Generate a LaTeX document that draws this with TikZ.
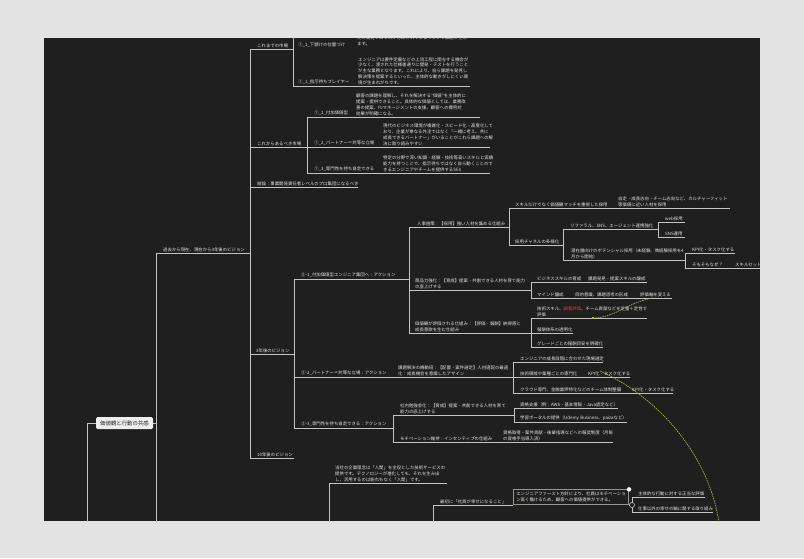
\documentclass[tikz,border=0pt]{standalone}
\usepackage{fontspec}
\setmainfont{Noto Sans CJK JP}
\definecolor{bg}{HTML}{1F1F1F}
\definecolor{outer}{HTML}{E3E3E3}
\definecolor{lnc}{HTML}{C4C4C4}
\definecolor{txc}{HTML}{E4E4E4}
\definecolor{relc}{HTML}{BDBD3A}
\definecolor{redt}{HTML}{E53935}
\definecolor{boxc}{HTML}{9A948C}
\tikzset{
  ln/.style={draw=lnc, line width=0.8pt},
  tn/.style={anchor=south west, inner xsep=0pt, inner ysep=1.2pt, align=left, text=txc, font=\fontsize{4.4}{5.8}\selectfont},
  tx/.style={anchor=south west, inner xsep=0pt, inner ysep=1.2pt, align=left, text=txc, font=\fontsize{4.4}{5.8}\selectfont},
  rootbox/.style={fill=white!93!black, text=black!85, rounded corners=1.5pt, minimum width=57pt, minimum height=12pt, inner sep=0pt, font=\fontsize{5.4}{6.4}\selectfont},
  rel/.style={draw=relc, line width=0.6pt, dash pattern=on 1.6pt off 0.8pt},
}
% branch: [pad]{name}{x1}{x2}{y}{text}
\newcommand\br[6][7]{%
  \pgfmathsetlengthmacro\brw{#4-#3-#1}%
  \coordinate (#2-l) at (#3,#5);
  \node[tn, text width=\brw] (#2) at (#3+#1,#5) {#6};
  \draw[ln] (#2-l) -- (#2.south east);}
\begin{document}
\begin{tikzpicture}[x=1pt,y=-1pt]
\useasboundingbox (0,0) rectangle (804,558);
\fill[outer] (0,0) rectangle (804,558);
\fill[bg] (44,38) rectangle (760,521);
\begin{scope}
\clip (44,38) rectangle (760,521);

% ---------- root ----------
\node[rootbox] (root) at (124.5,423) {価値観と行動の共感};
\coordinate (rl) at (87,423);
\coordinate (rlb) at (87,530);
\draw[ln] (root.west) -- (rl) -- (rlb);
\coordinate (r1) at (156,423);
\coordinate (r1b) at (156,530);
\draw[ln] (root.east) -- (r1);

\br{past}{156}{250}{253}{過去から現在、現在から3年後のビジョン}
\draw[ln] (past-l) -- (r1b);

% ---------- level B ----------
\br{mkt0}{250}{293}{49}{これまでの市場}
\br{mkt1}{250}{307}{147}{これからあるべき市場}
\br{concl}{250}{358}{187}{結論：事業開発責任者レベルのプロ集団になるべき}
\br[6]{ythree}{250}{294}{354}{3年後のビジョン}
\br{yten}{250}{294}{458}{10年後のビジョン}
\draw[ln] (mkt0-l) -- (yten-l);

% ---------- これまでの市場 ----------
\node[tx] (c11) at (298,49) {①\_1\_下請けの位置づけ};
\node[tx] (c11d) at (357,47) {元と開発プロセスが分断されてしまうという課題が生じ\\ます。};
\br[5]{c12}{293}{470}{86}{①\_1\_指示待ちプレイヤー}
\node[tx] (c12d) at (358,86) {エンジニアは要件定義などの上流工程に関与する機会が\\少なく、渡された仕様書通りに開発・テストを行うこと\\が主な業務となります。これにより、自ら課題を発見し\\解決策を提案するといった、主体的な動きがしにくい環\\境が生まれがちです。};
\coordinate (c1top) at (293,30);
\draw[ln] (c1top) -- (c12-l);

% ---------- これからあるべき市場 ----------
\br{c21}{307}{480}{117}{①\_2\_付加価値型}
\node[tx] (c21d) at (356,117) {顧客の課題を理解し、それを解決する“価値”を主体的に\\提案・提供できること。具体的な価値としては、業務改\\善の提案、PJマネージメントの支援、顧客への費用対\\効果が明確になる。};
\br{c22}{307}{490}{147}{①\_2\_パートナー＝対等な立場}
\node[tx] (c22d) at (383,147) {現代のビジネス環境が複雑化・スピード化・高度化して\\おり、企業が単なる外注ではなく「一緒に考え、共に\\成長できるパートナー」がいることがこれら課題への解\\決に取り組みやすい};
\br{c23}{307}{490}{173}{①\_3\_専門性を持ち自走できる}
\node[tx] (c23d) at (383,173) {特定の分野で深い知識・経験・技術等高いスキルと実績\\能力を持つことで、指示待ちではなく自ら動くことので\\きるエンジニアやチームを提供するSES};
\draw[ln] (c21-l) -- (c23-l);

% ---------- 3年後のビジョン ----------
\br[7]{aone}{294}{409}{279}{②-1\_付加価値型エンジニア集団へ：アクション}
\br[7]{atwo}{294}{513}{377}{②-2\_パートナー＝対等な立場：アクション}
\node[tx] (atwod) at (398,377) {課題解決の機動班：【配置・案件選定】人材適配の最適\\化：成長機会を意識したアサイン};
\br[7]{athree}{294}{393}{428}{②-3\_専門性を持ち自走できる：アクション}
\draw[ln] (aone-l) -- (athree-l);

% ---- ②-1 children ----
\br[8]{hone}{409}{509}{227}{人事施策：【採用】強い人材を集める仕組み}
\br[6]{htwo}{409}{531}{290}{商品力強化：【育成】提案・共創できる人材を育て能力\\の底上げする}
\br[6]{hthree}{409}{531}{333}{価値観が評価される仕組み：【評価・報酬】納得感と\\成長意欲を生む仕組み}
\draw[ln] (hone-l) -- (hthree-l);

% 採用
\br[6]{hoa}{509}{730}{208}{スキルだけでなく価値観マッチを重視した採用}
\node[tx] (hoad) at (618,208) {自走・成長志向・チーム志向など、カルチャーフィット\\等価値に近い人材を採用};
\br[6]{hob}{509}{563}{245}{採用チャネルの多様化}
\draw[ln] (hoa-l) -- (hob-l);
\br[7]{hoba}{563}{658}{229}{リファラル、SNS、エージェント連携強化}
\br[8]{hobb}{563}{685}{260}{潜在層向けのポテンシャル採用（未経験、微経験採用を4\\月から開始）}
\draw[ln] (hoba-l) -- (hobb-l);
\br[7]{web}{658}{685}{222}{web採用}
\br[7]{sns}{658}{685}{237}{SNS運用}
\draw[ln] (web-l) -- (sns-l);
\br[7]{kpia}{685}{735}{253}{KPI化・タスク化する}
\br[7]{why}{685}{775}{268}{そもそもなぜ？}
\node[tx] (skill) at (735,268) {スキルセット};
\draw[ln] (kpia-l) -- (why-l);

% 育成
\br[6]{sa}{531}{647}{282}{ビジネススキルの育成}
\node[tx] (sad) at (588,282) {課題発見・提案スキルの醸成};
\br[6]{sb}{531}{672}{298}{マインド醸成}
\node[tx] (sbd) at (575,298) {目的意識、課題思考の形成};
\node[tx] (sbe) at (640,298) {評価軸を変える};
\draw[ln] (sa-l) -- (sb-l);

% 評価
\br[6]{ea}{531}{647}{318}{技術スキル、\textcolor{redt}{顧客評価}、チーム貢献などを定量＋定性で\\評価}
\br[6]{eb}{531}{573}{333}{報酬体系の透明化}
\br[6]{ec}{531}{603}{347}{グレードごとの報酬目安を明確化}
\draw[ln] (ea-l) -- (ec-l);

% ---- ②-2 children ----
\br[7]{pa}{513}{603}{362}{エンジニアの成長段階に合わせた現場選定}
\br[7]{pb}{513}{630}{377}{技術領域や業種ごとの専門化}
\node[tx] (pbd) at (588,377) {KPI化・タスク化する};
\br[7]{pc}{513}{673}{393}{クラウド専門、金融業界特化などのチーム体制整備}
\node[tx] (pcd) at (632,393) {KPI化・タスク化する};
\draw[ln] (pa-l) -- (pc-l);

% ---- ②-3 children ----
\br[7]{qa}{393}{514}{415}{社内勉強会化：【育成】提案・共創できる人材を育て\\能力の底上げする}
\br[7]{qb}{393}{613}{442}{モチベーション維持：インセンティブの仕組み}
\node[tx] (qbd) at (503,442) {資格取得・案件貢献・後輩指導などへの報奨制度（月毎\\の資格手当導入済）};
\draw[ln] (qa-l) -- (qb-l);
\br[6]{ra}{514}{618}{408}{資格支援（例：AWS・基本情報・Java認定など）}
\br[6]{rb}{514}{627}{422}{学習ポータルの提供（Udemy Business、paizaなど）}
\draw[ln] (ra-l) -- (rb-l);

% ---------- bottom part ----------
\br[6]{bta}{329}{447}{483}{当社の企業理念は「人間」を主役とした技術サービスの\\提供です。テクノロジーが進化しても、それを生み出\\し、活用するのは紛れもなく「人間」です。}
\coordinate (btab) at (329,530);
\draw[ln] (bta-l) -- (btab);
\br[7]{btb}{433}{507}{505}{最初に「社員が幸せになること」}
\coordinate (btbb) at (433,530);
\draw[ln] (btb-l) -- (btbb);
\node[draw=boxc, line width=0.6pt, fill=bg, anchor=south west, minimum width=115pt, minimum height=15pt, inner xsep=3pt, inner ysep=1.5pt, align=left, text=txc, font=\fontsize{4.4}{5.8}\selectfont] (bx) at (513,505) {エンジニアファースト方針により、社員はモチベーショ\\ン高く働けるため、顧客への価値提供ができる。};
\draw[ln] (btb.south east) -- (bx.south west);
\br[6]{fa}{632}{705}{497}{主体的な行動に対する正当な評価}
\br[6]{fb}{632}{713}{512}{仕事以外の幸せの軸に関する取り組み}
\draw[ln] (fa-l) -- (fb-l);
\node[circle, draw=lnc, line width=0.6pt, fill=bg, minimum size=5pt, inner sep=0pt] (col) at (632,505) {};
\draw[ln] (bx.south east) -- (col.west);
\node[circle, fill=white, minimum size=4.5pt, inner sep=0pt] (dot) at (bx.north east) {};

% ---------- relation curves ----------
\coordinate (ra1) at (653,298);
\coordinate (ra2) at (593,318);
\draw[rel] (ra1) .. controls (628,302) and (615,318) .. (ra2);
\node[fill=relc, minimum size=2.2pt, inner sep=0pt] (sq) at (ra2) {};
\coordinate (rb1) at (600,371);
\coordinate (rb2) at (720,530);
\draw[rel] (rb1) .. controls (660,398) and (712,458) .. (rb2);
\end{scope}
\end{tikzpicture}
\end{document}
